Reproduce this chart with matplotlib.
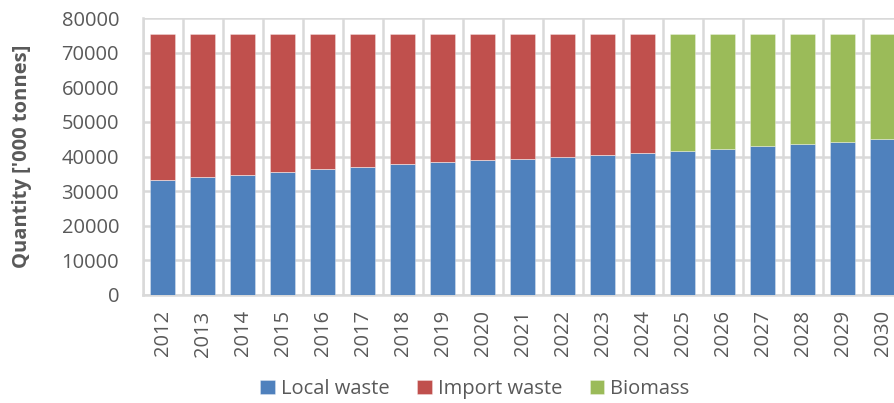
import matplotlib
matplotlib.use("Agg")
import matplotlib.pyplot as plt
import numpy as np

years = [str(y) for y in range(2012, 2031)]
local_waste = [33200, 34000, 34700, 35500, 36300, 37000, 37700, 38300, 38900, 39400,
               39900, 40400, 40900, 41700, 42300, 43000, 43700, 44300, 45100]
import_waste = [42300, 41500, 40800, 40000, 39200, 38500, 37800, 37200, 36600, 36100,
                35600, 35100, 34600, 0, 0, 0, 0, 0, 0]
biomass = [0, 0, 0, 0, 0, 0, 0, 0, 0, 0,
           0, 0, 0, 33800, 33200, 32500, 31800, 31200, 30400]
y_ticks = [0, 10000, 20000, 30000, 40000, 50000, 60000, 70000, 80000]

BLUE = "#4F81BD"
RED = "#C0504D"
GREEN = "#9BBB59"
GRID = "#D9D9D9"
TEXT = "#595959"

plt.rcParams["font.family"] = ["Open Sans", "DejaVu Sans"]

W, H = 894, 403
fig = plt.figure(figsize=(W / 100, H / 100), dpi=100)
left_px, right_px, top_px, bottom_px = 142.7, 902.7, 18, 295
ax = fig.add_axes([left_px / W, 1 - bottom_px / H,
                   (right_px - left_px) / W, (bottom_px - top_px) / H])

x = np.arange(len(years))
bw = 0.62
edge = dict(edgecolor=(1, 1, 1, 0.35), linewidth=0.6)
b1 = ax.bar(x, local_waste, bw, color=BLUE, label="Local waste", zorder=3, **edge)
b2 = ax.bar(x, import_waste, bw, bottom=local_waste, color=RED,
            label="Import waste", zorder=3, **edge)
b3 = ax.bar(x, biomass, bw, bottom=local_waste, color=GREEN,
            label="Biomass", zorder=3, **edge)

ax.set_xlim(-0.5, len(years) - 0.5)
ax.set_ylim(0, 80000)
ax.set_yticks(y_ticks)
ax.set_yticklabels([str(v) for v in y_ticks])
ax.set_xticks(x)
ax.set_xticklabels(years, rotation=90)
ax.set_xticks(np.arange(-0.5, len(years) + 0.5, 1), minor=True)

ax.grid(axis="y", which="major", color=GRID, linewidth=1.8, zorder=0)
ax.grid(axis="x", which="minor", color=GRID, linewidth=1.8, zorder=0)
ax.tick_params(axis="both", which="both", length=0, colors=TEXT, labelsize=14.5)
ax.tick_params(axis="x", which="major", pad=11)
ax.tick_params(axis="y", pad=17)
for s in ["top", "right"]:
    ax.spines[s].set_visible(False)
for s in ["left", "bottom"]:
    ax.spines[s].set_color(GRID)
    ax.spines[s].set_linewidth(1.8)

ax.set_ylabel("Quantity ['000 tonnes]", fontsize=14.5, fontweight="bold",
              color=TEXT)
ax.yaxis.set_label_coords((32 - left_px) / (right_px - left_px), 0.5)

fig.legend(handles=[b1, b2, b3], loc="center",
           bbox_to_anchor=(475 / W, 1 - 389 / H), ncol=3, frameon=False,
           fontsize=14.5, labelcolor=TEXT, handlelength=0.7, handleheight=0.7,
           handletextpad=0.3, columnspacing=1.4)

fig.savefig("out.png", dpi=100)
